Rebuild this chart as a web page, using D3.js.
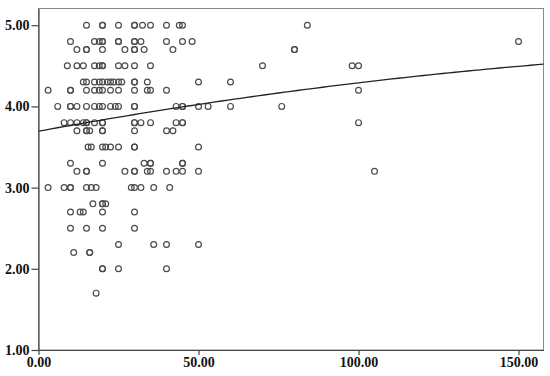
<!DOCTYPE html>
<html>
<head>
<meta charset="utf-8">
<script src="https://cdn.jsdelivr.net/npm/d3@7"></script>
<style>
    body { margin: 0; background: #fff; }
    .axis text { font-family: "Liberation Serif", "Times New Roman", serif; font-weight: bold; font-size: 14px; fill: #111; }
    .axis path, .axis line { stroke: #444; stroke-width: 1.2; }
</style>
</head>
<body>
<script>
// y levels (ratings) and the x values of the points sitting on each level
const yLevels = [5.0, 4.8, 4.7, 4.5, 4.3, 4.2, 4.0, 3.8, 3.7, 3.5, 3.3, 3.2, 3.0, 2.8, 2.7, 2.5, 2.3, 2.2, 2.0, 1.7]
const xAtLevel = [
    [15, 20, 20, 25, 30, 30, 32.5, 35, 40, 44, 45, 84],
    [10, 17.5, 19, 20, 20, 25, 25, 30, 30, 32, 40, 45, 48, 150],
    [12, 15, 15, 20, 27, 30, 30, 33, 42, 80, 80],
    [9, 12, 14, 17.5, 19, 20, 20, 25, 27, 30, 35, 70, 98, 100],
    [14, 15, 17.5, 19, 20, 21.5, 22.5, 23.5, 25, 26, 30, 30, 34, 50, 60],
    [3, 10, 10, 15, 17.5, 19, 20, 22.5, 25, 30, 34, 35, 40, 100],
    [6, 10, 10, 12, 15, 17.5, 19, 20, 22.5, 24, 25, 30, 30, 43, 45, 45, 50, 53, 60, 76],
    [8, 10, 12, 14, 15, 15, 17.5, 20, 20, 30, 30, 32, 35, 43, 45, 45, 100],
    [12, 15, 15, 16, 20, 20, 30, 40, 42],
    [15.5, 16.5, 20, 21, 22.5, 25, 30, 30, 50],
    [10, 20, 33, 35, 35, 45, 45],
    [12, 15, 15, 27, 30, 30, 34, 35, 40, 43, 45, 50, 105],
    [3, 8, 10, 10, 15, 16.5, 18, 29, 30, 32, 36, 41],
    [17, 20, 20, 21],
    [10, 13, 14, 20, 30],
    [10, 15, 20, 30],
    [25, 36, 40, 50],
    [11, 16, 16],
    [20, 20, 25, 40],
    [18]
]

// quadratic fit: a + b*x + c*x^2
const fitCoef = [3.695, 0.007217, -0.0000126]

const xTicks = [0, 50, 100, 150]
const yTicks = [1, 2, 3, 4, 5]

const WIDTH = 550
const HEIGHT = 376

const PADDING = {
    left: 38.5,
    right: 6.5,
    top: 8.5,
    bottom: 26
}

const X_MAX = 157.8
const Y_MIN = 1
const Y_MAX = 5.206

const points = []
yLevels.forEach((y, i) => {
    xAtLevel[i].forEach(x => points.push({ x: x, y: y }))
})

const svg = d3.select("body")
    .append("svg")
    .attr("width", WIDTH)
    .attr("height", HEIGHT)

const xScale = d3.scaleLinear()
    .domain([0, X_MAX])
    .range([PADDING.left, WIDTH - PADDING.right])

const yScale = d3.scaleLinear()
    .domain([Y_MIN, Y_MAX])
    .range([HEIGHT - PADDING.bottom, PADDING.top])

// frame (top and right)
svg.append("rect")
    .attr("x", xScale(0))
    .attr("y", yScale(Y_MAX))
    .attr("width", xScale(X_MAX) - xScale(0))
    .attr("height", yScale(Y_MIN) - yScale(Y_MAX))
    .attr("fill", "none")
    .attr("stroke", "#8a8a8a")
    .attr("stroke-width", 1)

svg.selectAll("circle")
    .data(points)
    .enter()
    .append("circle")
    .attr("cx", d => xScale(d.x))
    .attr("cy", d => yScale(d.y))
    .attr("r", 2.9)
    .attr("fill", "none")
    .attr("stroke", "#4a4a4a")
    .attr("stroke-width", 1.2)

const fitX = d3.range(0, X_MAX + 0.01, X_MAX / 80)
const fitLine = d3.line()
    .x(x => xScale(x))
    .y(x => yScale(fitCoef[0] + fitCoef[1] * x + fitCoef[2] * x * x))

svg.append("path")
    .datum(fitX)
    .attr("d", fitLine)
    .attr("fill", "none")
    .attr("stroke", "#222")
    .attr("stroke-width", 1.3)

const xAxis = d3.axisBottom(xScale)
    .tickValues(xTicks)
    .tickFormat(d3.format(".2f"))
    .tickSize(5)
    .tickSizeOuter(0)
    .tickPadding(2)

const yAxis = d3.axisLeft(yScale)
    .tickValues(yTicks)
    .tickFormat(d3.format(".2f"))
    .tickSize(7)
    .tickSizeOuter(0)
    .tickPadding(2)

svg.append("g")
    .attr("class", "axis")
    .attr("transform", "translate(0, " + (HEIGHT - PADDING.bottom) + ")")
    .call(xAxis)

svg.append("g")
    .attr("class", "axis")
    .attr("transform", "translate(" + PADDING.left + ", 0)")
    .call(yAxis)
</script>
</body>
</html>
